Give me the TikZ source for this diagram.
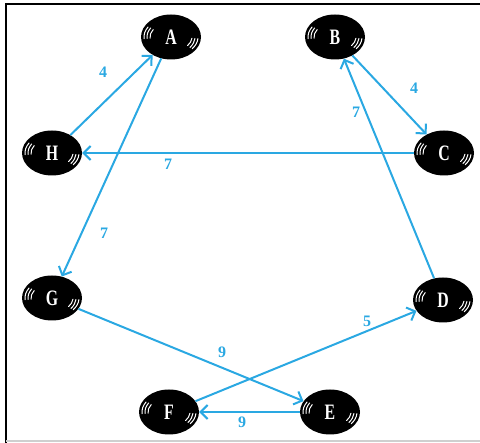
\documentclass[tikz,border=0pt]{standalone}
\usepackage{fontspec}
\usepackage{graphicx}
\setmainfont{Liberation Serif}
\usetikzlibrary{shapes.geometric,arrows.meta}
\definecolor{edgeblue}{HTML}{2AA8E2}
\definecolor{framegrey}{HTML}{CFCFCF}
\newcommand{\ballletter}[1]{\scalebox{0.72}[1]{#1}}
\begin{document}
\begin{tikzpicture}[x=1pt,y=-1pt,
  ball/.style={ellipse, fill=black, minimum width=60pt, minimum height=45pt, inner sep=0pt,
    text=white, font=\bfseries\fontsize{22}{22}\selectfont,
    path picture={
      \foreach \r/\s in {21/14,24/17,27/19}{
        \draw[white, line width=1pt, line cap=round]
          ([shift={(148:\r pt and \s pt)}]path picture bounding box.center)
          arc[start angle=148, end angle=185, x radius=\r pt, y radius=\s pt];
        \draw[white, line width=1pt, line cap=round]
          ([shift={(-5:\r pt and \s pt)}]path picture bounding box.center)
          arc[start angle=-5, end angle=-38, x radius=\r pt, y radius=\s pt];
      }
    }},
  link/.style={draw=edgeblue, line width=2pt, -{Straight Barb[length=7pt,width=14pt,line width=2pt]}},
  wt/.style={text=edgeblue, font=\bfseries\fontsize{16}{16}\selectfont, inner sep=1pt}]
\useasboundingbox (0,0) rectangle (480,443);
% frame
\coordinate (f1) at (6,443);
\coordinate (f2) at (6,4);
\coordinate (f3) at (480,4);
\coordinate (g1) at (6,441);
\coordinate (g2) at (480,441);
\draw[line width=2pt] (f1) -- (f2) -- (f3);
\draw[framegrey, line width=2pt] (g1) -- (g2);
% nodes
\node[ball] (A) at (171,37) {\ballletter{A}};
\node[ball] (B) at (335,37) {\ballletter{B}};
\node[ball] (C) at (444,153) {\ballletter{C}};
\node[ball] (H) at (52,153) {\ballletter{H}};
\node[ball] (G) at (52,298) {\ballletter{G}};
\node[ball] (D) at (443,300) {\ballletter{D}};
\node[ball] (F) at (169,412) {\ballletter{F}};
\node[ball] (E) at (330,412) {\ballletter{E}};
% edges
\draw[link] (H) -- (A);
\draw[link] (A) -- (G);
\draw[link] (B) -- (C);
\draw[link] (C) -- (H);
\draw[link] (D) -- (B);
\draw[link] (G) -- (E);
\draw[link] (F) -- (D);
\draw[link] (E) -- (F);
% weights
\node[wt] (wHA) at (103,72) {4};
\node[wt] (wAG) at (104,233) {7};
\node[wt] (wBC) at (414,88) {4};
\node[wt] (wCH) at (168,164) {7};
\node[wt] (wDB) at (356,112) {7};
\node[wt] (wGE) at (222,352) {9};
\node[wt] (wFD) at (367,321) {5};
\node[wt] (wEF) at (242,422) {9};
\end{tikzpicture}
\end{document}
